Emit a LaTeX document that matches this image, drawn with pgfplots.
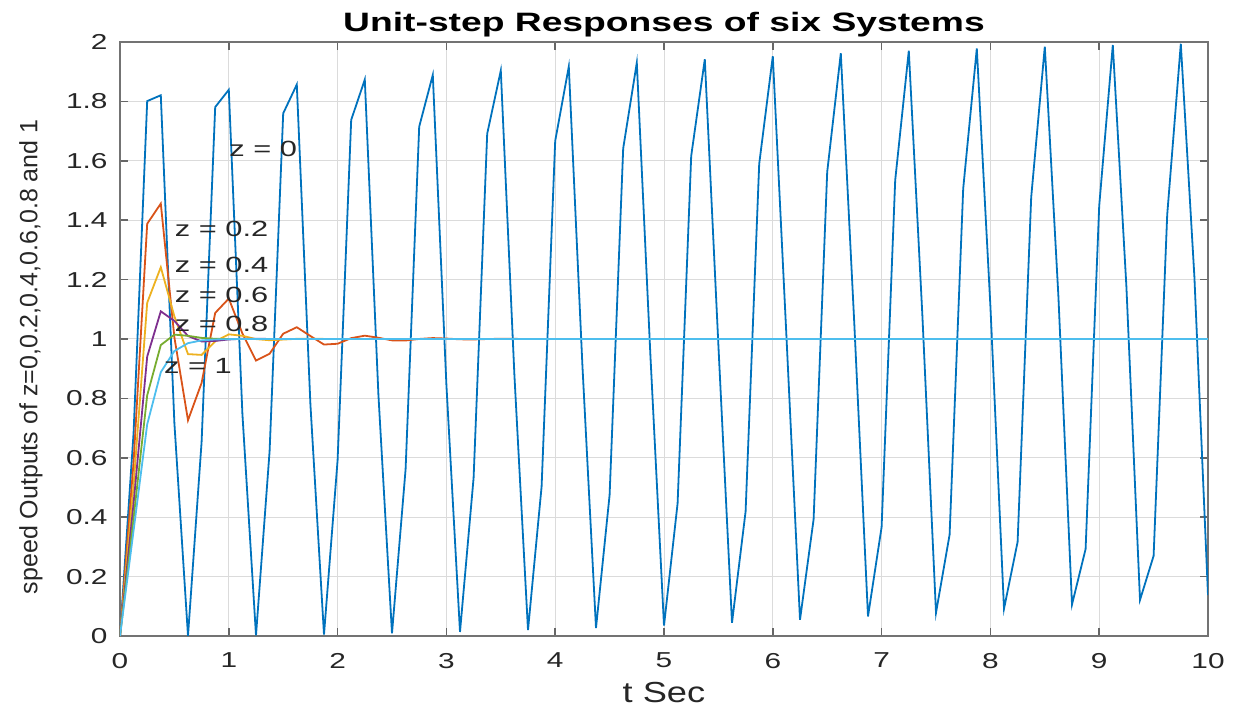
\documentclass[border=0pt]{standalone}
\usepackage{pgfplots}
\pgfplotsset{compat=1.18}
\usepackage{fontspec}
\setmainfont{Liberation Sans}
\definecolor{mblue}{rgb}{0,0.447,0.741}
\definecolor{morange}{rgb}{0.85,0.325,0.098}
\definecolor{myellow}{rgb}{0.929,0.694,0.125}
\definecolor{mpurple}{rgb}{0.494,0.184,0.556}
\definecolor{mgreen}{rgb}{0.466,0.674,0.188}
\definecolor{mcyan}{rgb}{0.301,0.745,0.933}
\begin{document}
\begin{tikzpicture}
\begin{axis}[
  scale only axis, width=544pt, height=297pt,
  xmin=0, xmax=10, ymin=0, ymax=2,
  xtick={0,1,2,3,4,5,6,7,8,9,10},
  ytick={0,0.2,0.4,0.6,0.8,1,1.2,1.4,1.6,1.8,2},
  yticklabels={0,0.2,0.4,0.6,0.8,1,1.2,1.4,1.6,1.8,2},
  grid=major, major grid style={black!14, line width=0.5pt},
  axis line style={black!55, line width=1pt},
  tick style={black!60, line width=0.8pt}, major tick length=4pt,
  tick align=inside,
  /pgf/number format/assume math mode=true,
  tick label style={font=\fontsize{10.8}{12}\selectfont, xscale=1.38, text=black!85},
  xticklabel style={yshift=-5pt},
  yticklabel style={xshift=-1pt},
  every axis title shift=0pt,
  title={Unit-step Responses of six Systems},
  title style={font=\bfseries\fontsize{13.3}{15}\selectfont, xscale=1.40, inner sep=0pt, at={(axis description cs:0.5,1)}, anchor=base, yshift=5pt},
  xlabel={t Sec},
  xlabel style={font=\fontsize{14.5}{16}\selectfont, xscale=1.25, inner sep=0pt, text=black!85, at={(axis description cs:0.5,0)}, anchor=base, yshift=-33pt},
  ylabel={speed Outputs of z=0,0.2,0.4,0.6,0.8 and 1},
  ylabel style={font=\fontsize{12.5}{14}\selectfont, inner sep=0pt, text=black!85, at={(axis description cs:-0.0818,0.47)}, anchor=center},
  every axis plot/.append style={line width=0.9pt, no markers},
]
% z = 0
\addplot[mblue] coordinates {
(0,0) (0.125,0.6847) (0.25,1.8011) (0.375,1.8206) (0.5,0.7163) (0.625,0.0006)
(0.75,0.6534) (0.875,1.7809) (1,1.8391) (1.125,0.7483) (1.25,0.0022)
(1.375,0.6224) (1.5,1.7597) (1.625,1.8567) (1.75,0.7806) (1.875,0.0050)
(2,0.5919) (2.125,1.7377) (2.25,1.8733) (2.375,0.8130) (2.5,0.0088)
(2.625,0.5619) (2.75,1.7149) (2.875,1.8890) (3,0.8458) (3.125,0.0137)
(3.25,0.5323) (3.375,1.6913) (3.5,1.9037) (3.625,0.8786) (3.75,0.0198)
(3.875,0.5032) (4,1.6669) (4.125,1.9174) (4.25,0.9116) (4.375,0.0269)
(4.5,0.4747) (4.625,1.6419) (4.75,1.9301) (4.875,0.9447) (5,0.0350)
(5.125,0.4467) (5.25,1.6161) (5.375,1.9418) (5.5,0.9779) (5.625,0.0443)
(5.75,0.4194) (5.875,1.5896) (6,1.9524) (6.125,1.0111) (6.25,0.0546)
(6.375,0.3927) (6.5,1.5625) (6.625,1.9620) (6.75,1.0442) (6.875,0.0659)
(7,0.3667) (7.125,1.5347) (7.25,1.9705) (7.375,1.0774) (7.5,0.0782)
(7.625,0.3413) (7.75,1.5064) (7.875,1.9780) (8,1.1104) (8.125,0.0916)
(8.25,0.3168) (8.375,1.4775) (8.5,1.9844) (8.625,1.1433) (8.75,0.1060)
(8.875,0.2929) (9,1.4481) (9.125,1.9897) (9.25,1.1761) (9.375,0.1214)
(9.5,0.2698) (9.625,1.4182) (9.75,1.9939) (9.875,1.2086) (10,0.1377)
};
% z = 0.2
\addplot[morange] coordinates {
(0,0) (0.125,0.5863) (0.25,1.3880) (0.375,1.4559) (0.5,1.0055) (0.625,0.7264)
(0.75,0.8521) (0.875,1.0878) (1,1.1361) (1.125,1.0186) (1.25,0.9273)
(1.375,0.9503) (1.5,1.0178) (1.625,1.0396) (1.75,1.0101) (1.875,0.9813)
(2,0.9840) (2.125,1.0029) (2.25,1.0112) (2.375,1.0042) (2.5,0.9954)
(2.625,0.9950) (2.75,1.0002) (2.875,1.0031) (3,1.0015) (3.125,0.9989)
(3.25,0.9985) (3.375,0.9999) (3.5,1.0008) (3.625,1.0005) (3.75,0.9998)
(4,1) (10,1)
};
% z = 0.4
\addplot[myellow] coordinates {
(0,0) (0.125,0.5087) (0.25,1.1221) (0.375,1.2418) (0.5,1.0761) (0.625,0.9491)
(0.75,0.9465) (0.875,0.9920) (1,1.0157) (1.125,1.0108) (1.25,0.9996)
(1.375,0.9959) (1.5,0.9981) (1.625,1.0006) (1.75,1.0010) (1.875,1.0003)
(2,0.9999) (10,1)
};
% z = 0.6
\addplot[mpurple] coordinates {
(0,0) (0.125,0.4467) (0.25,0.9407) (0.375,1.0932) (0.5,1.0608) (0.625,1.0102)
(0.75,0.9917) (0.875,0.9935) (1,0.9985) (1.125,1.0007) (1.25,1.0007)
(1.375,1.0002) (1.5,1) (10,1)
};
% z = 0.8
\addplot[mgreen] coordinates {
(0,0) (0.125,0.3965) (0.25,0.8104) (0.375,0.9796) (0.5,1.0147) (0.625,1.0107)
(0.75,1.0038) (0.875,1.0006) (1,0.9998) (1.125,1) (10,1)
};
% z = 1
\addplot[mcyan] coordinates {
(0,0) (0.125,0.3554) (0.25,0.7127) (0.375,0.8883) (0.5,0.9596) (0.625,0.9860)
(0.75,0.9953) (0.875,0.9985) (1,0.9995) (1.125,0.9999) (10,1)
};
\begin{scope}[every node/.style={anchor=west, inner sep=0pt, font=\fontsize{11}{13}\selectfont, xscale=1.4, text=black!85}]
\node at (axis cs:1,1.64) {z = 0};
\node at (axis cs:0.5,1.37) {z = 0.2};
\node at (axis cs:0.5,1.25) {z = 0.4};
\node at (axis cs:0.5,1.15) {z = 0.6};
\node at (axis cs:0.5,1.05) {z = 0.8};
\node at (axis cs:0.4,0.91) {z = 1};
\end{scope}
\end{axis}
\pgfresetboundingbox
\path ([shift={(-60pt,-38pt)}]current axis.south west) rectangle ([shift={(14pt,21pt)}]current axis.north east);
\end{tikzpicture}
\end{document}
